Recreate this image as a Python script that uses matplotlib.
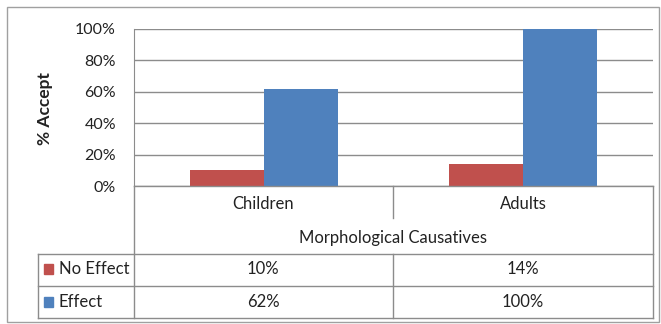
import numpy as np
import matplotlib
matplotlib.use("Agg")
import matplotlib.pyplot as plt
from matplotlib.lines import Line2D
from matplotlib.patches import Rectangle
from matplotlib.ticker import FuncFormatter

groups = ["Children", "Adults"]
series_names = ["No Effect", "Effect"]
no_effect = [10, 14]
effect = [62, 100]
group_title = "Morphological Causatives"
y_label = "% Accept"

RED = "#C0504D"
BLUE = "#4F81BD"
GRID = "#8C8C8C"
W, H = 661, 324

plt.rcParams["font.family"] = ["Lato", "DejaVu Sans"]
plt.rcParams["font.size"] = 12

fig = plt.figure(figsize=(W / 100, H / 100), dpi=100)


def fx(px):
    return px / W


def fy(py):
    return 1 - py / H


def hline(y, x0, x1, color=GRID, lw=1.0):
    fig.add_artist(Line2D([fx(x0), fx(x1)], [fy(y), fy(y)], color=color, lw=lw))


def vline(x, y0, y1, color=GRID, lw=1.0):
    fig.add_artist(Line2D([fx(x), fx(x)], [fy(y0), fy(y1)], color=color, lw=lw))


# plot area
ax = fig.add_axes([fx(134), fy(186), fx(653) - fx(134), fy(29) - fy(186)])
x = np.arange(len(groups))
bw = 0.285
ax.bar(x - bw, no_effect, bw, align="edge", color=RED, zorder=3)
ax.bar(x, effect, bw, align="edge", color=BLUE, zorder=3)
ax.set_xlim(-0.5, len(groups) - 0.5)
ax.set_ylim(0, 100)
ax.set_yticks(np.arange(0, 101, 20))
ax.yaxis.set_major_formatter(FuncFormatter(lambda v, p: f"{int(v)}%"))
ax.tick_params(axis="y", length=0, pad=13, labelsize=11.5, labelcolor="#222222")
ax.set_xticks([])
ax.grid(axis="y", color=GRID, lw=1.0, zorder=0)
for s in ["top", "right", "bottom"]:
    ax.spines[s].set_visible(False)
ax.spines["left"].set_color(GRID)

# outer chart border
fig.add_artist(Rectangle((fx(7), fy(322)), fx(659) - fx(7), fy(7) - fy(322),
                         fill=False, ec="#A0A0A0", lw=1.0))

fig.text(fx(45), fy(109), y_label, rotation=90, ha="center", va="center",
         fontweight="bold", fontsize=12.5, color="#222222")

# category axis / data table lines
hline(186, 134, 653)
vline(134, 186, 318)
vline(653, 186, 318)
vline(393, 186, 218)
for yy in [254, 286, 318]:
    hline(yy, 38, 653)
vline(38, 254, 318)
vline(393, 254, 318)

centers = [263, 523]
for cx, g in zip(centers, groups):
    fig.text(fx(cx), fy(204), g, ha="center", va="center", color="#222222")
fig.text(fx(393), fy(238), group_title, ha="center", va="center", color="#222222")

rows = [(no_effect, RED, 269), (effect, BLUE, 302)]
for (vals, col, yy), name in zip(rows, series_names):
    fig.add_artist(Rectangle((fx(44), fy(yy + 5)), fx(9), fy(0) - fy(10),
                             color=col))
    fig.text(fx(59), fy(yy), name, ha="left", va="center", color="#222222")
    for cx, v in zip(centers, vals):
        fig.text(fx(cx), fy(yy), f"{v}%", ha="center", va="center", color="#222222")

fig.savefig("out.png", dpi=100)
